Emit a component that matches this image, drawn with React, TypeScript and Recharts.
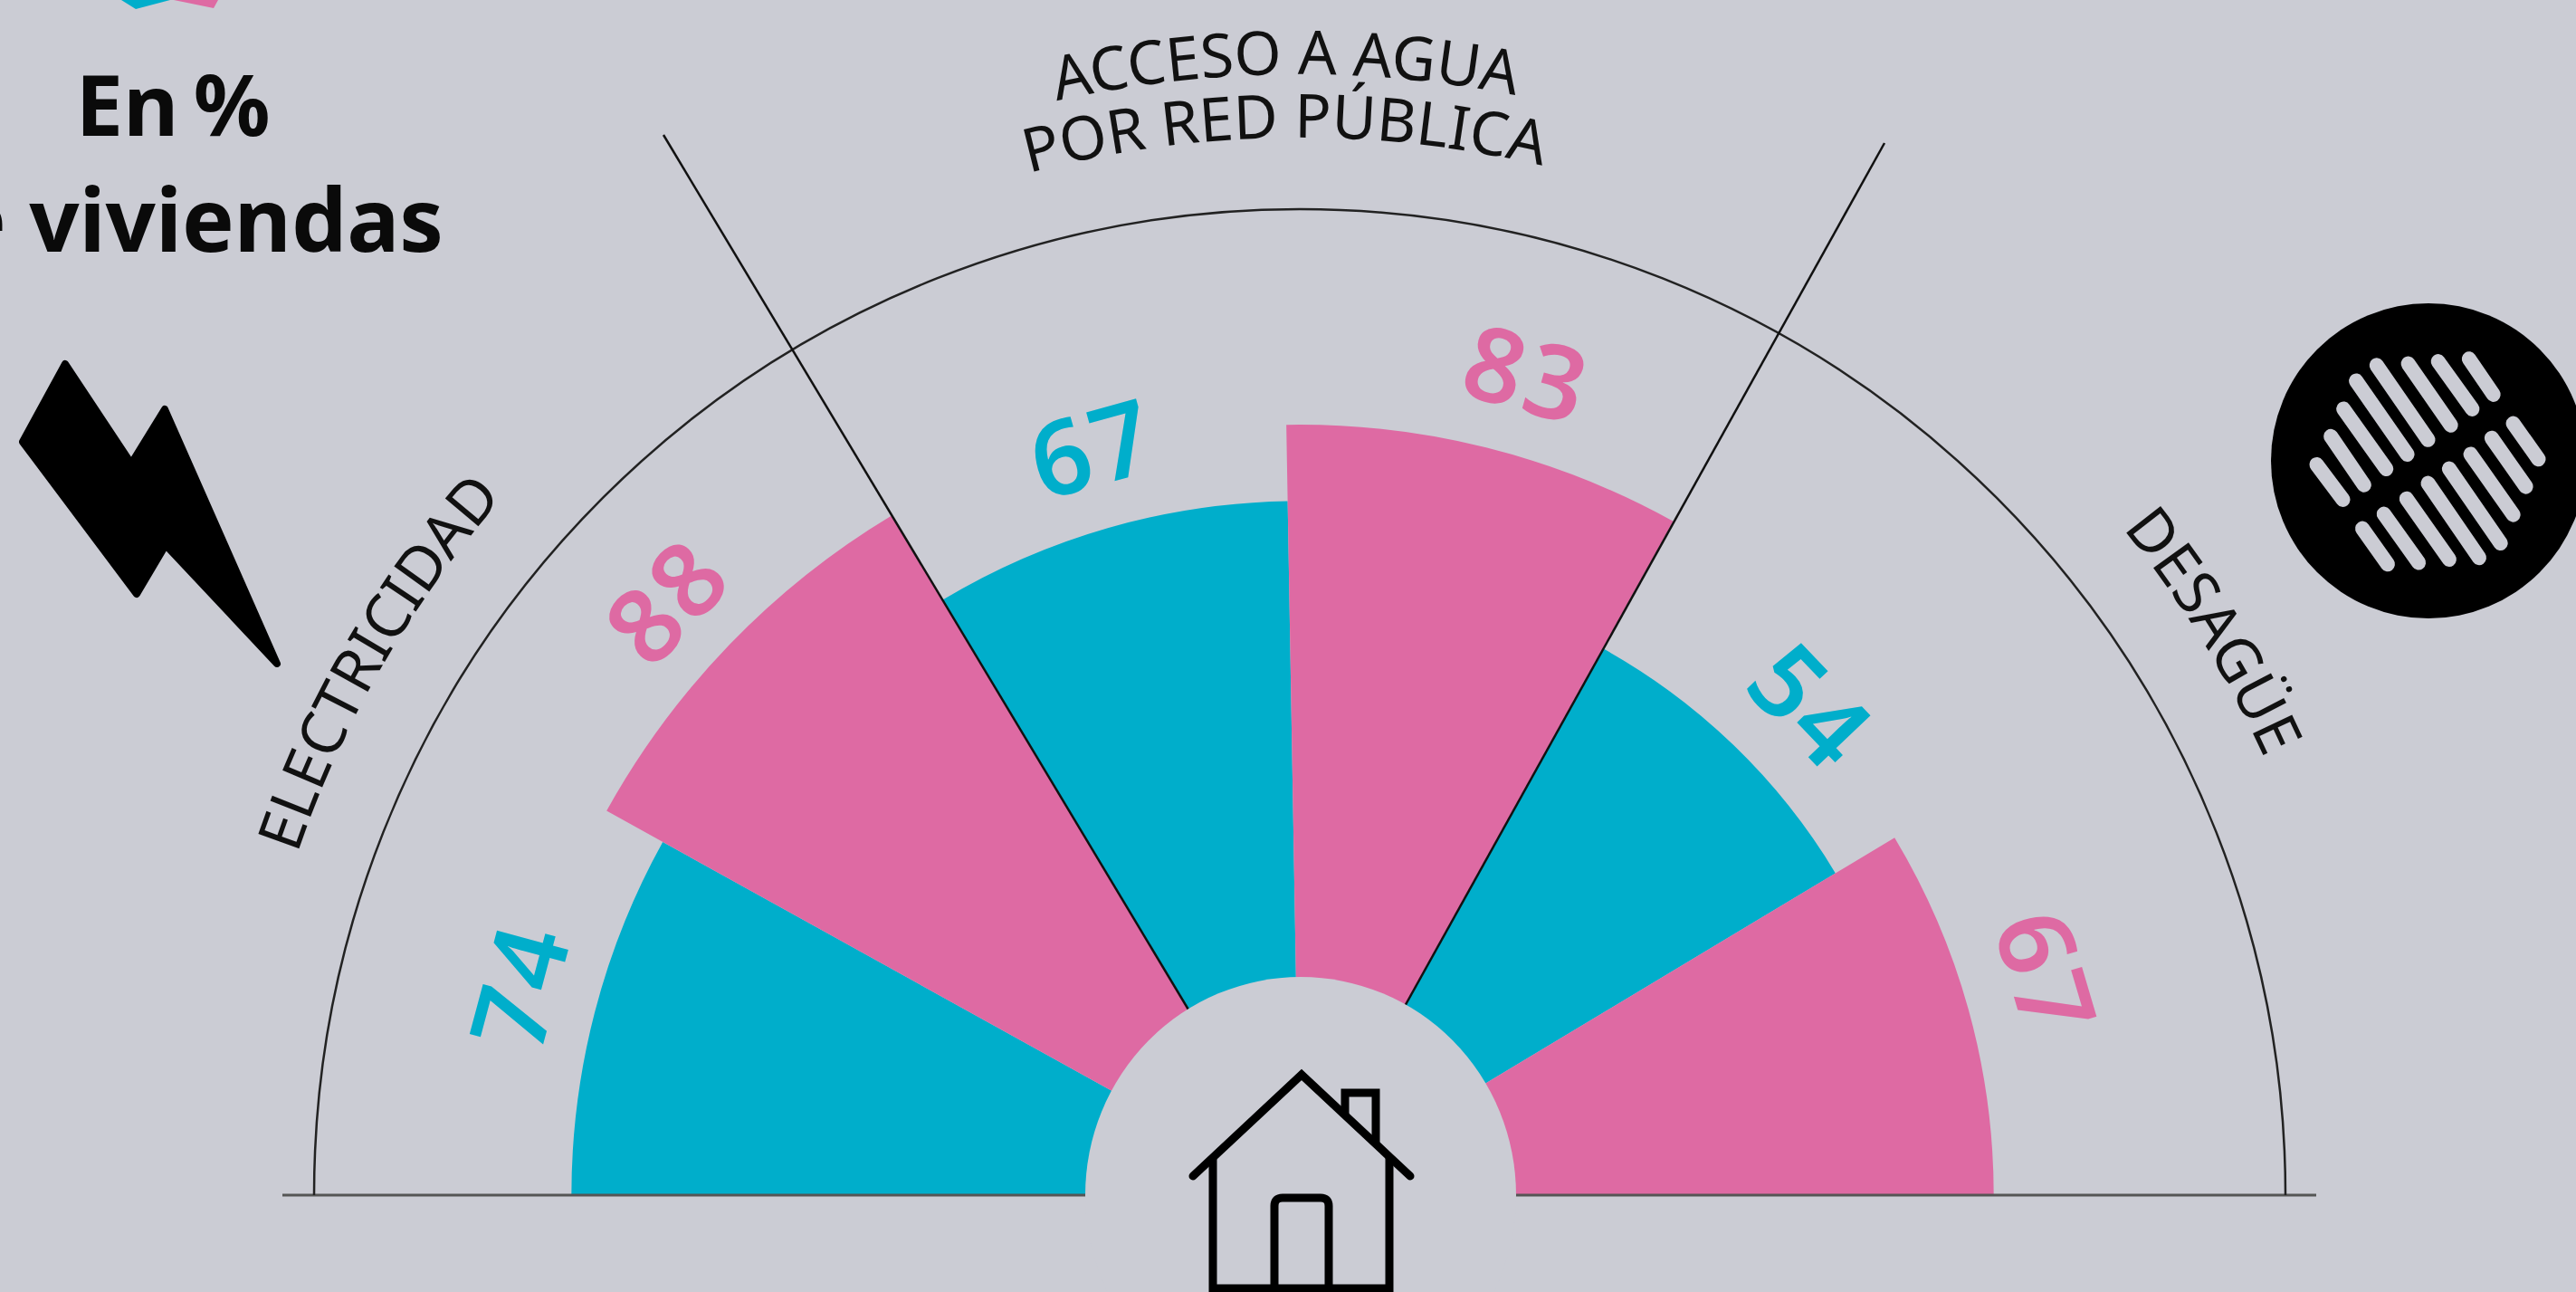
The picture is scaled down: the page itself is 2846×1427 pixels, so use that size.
import React from 'react';
import { RadialBarChart, RadialBar, PolarAngleAxis, PolarRadiusAxis, Sector } from 'recharts';

const W = 2846;
const H = 1427;
const BG = '#cbccd4';
const TEAL = '#00aecb';
const PINK = '#de6aa3';
const INK = '#0a0a0a';
const CX = 1436;
const CY = 1320;
const TILT = 1;

const categories = ['e-viv', 'e-hog', 'a-viv', 'a-hog', 'd-viv', 'd-hog'];
const values = [74, 88, 67, 83, 54, 67];
const tones = [TEAL, PINK, TEAL, PINK, TEAL, PINK];
const titleLines = ['En %', 'de viviendas'];
const groupLabels = ['ELECTRICIDAD', 'ACCESO A AGUA', 'POR RED PÚBLICA', 'DESAGÜE'];

// small hand placement of the value labels around each wedge's middle
const labelAngleNudge: Record<string, number> = { 'e-viv': 0, 'e-hog': 1.8, 'a-viv': 0.5, 'a-hog': -0.5, 'd-viv': -1.3, 'd-hog': 1.5 };
const labelRadiusNudge: Record<string, number> = { 'e-viv': 0, 'e-hog': -4, 'a-viv': 2, 'a-hog': 3, 'd-viv': 4, 'd-hog': 6 };

const rows = categories.map((category, i) => ({ category, value: values[i], tone: tones[i] }));

const RAD = Math.PI / 180;

function WedgeWithLabel(p: any) {
  const { cx, cy, innerRadius, outerRadius, startAngle, endAngle, payload } = p;
  const hi = Math.min(Math.max(startAngle, endAngle), 180);
  const rawLo = Math.min(startAngle, endAngle);
  const lo = rawLo < 2 ? 0 : rawLo;
  const mid = (startAngle + endAngle) / 2 - TILT + labelAngleNudge[payload.category];
  const r = outerRadius + 46 + labelRadiusNudge[payload.category];
  const x = cx + r * Math.cos(mid * RAD);
  const y = cy - r * Math.sin(mid * RAD);
  return (
    <g>
      <Sector
        cx={cx}
        cy={cy}
        innerRadius={innerRadius}
        outerRadius={outerRadius}
        startAngle={hi}
        endAngle={lo}
        fill={payload.tone}
        stroke="none"
      />
      <text
        transform={`translate(${x} ${y}) rotate(${90 - mid})`}
        textAnchor="middle"
        y={0}
        fontFamily="'Noto Sans'"
        fontWeight={600}
        fontSize={114}
        letterSpacing={4}
        fill={payload.tone}
      >
        {payload.value}
      </text>
    </g>
  );
}

const upperSlots = [
  [745, 597, 828, 705], [790, 510, 895, 660], [830, 425, 965, 610], [870, 338, 1032, 565],
  [935, 290, 1098, 520], [1035, 285, 1170, 475], [1130, 278, 1238, 425], [1228, 270, 1305, 380],
];
const lowerSlots = [
  [890, 795, 970, 905], [958, 750, 1068, 900], [1030, 703, 1165, 890], [1098, 655, 1260, 885],
  [1165, 610, 1328, 840], [1233, 565, 1368, 752], [1300, 515, 1408, 665], [1368, 470, 1448, 580],
];

function arcPath(r: number) {
  return `M ${CX - r} ${CY} A ${r} ${r} 0 0 1 ${CX + r} ${CY}`;
}

function Overlay() {
  const labelProps = { fontFamily: "'Noto Sans'", fontSize: 67, fill: '#111', textAnchor: 'middle' as const };
  return (
    <svg width={W} height={H} style={{ position: 'absolute', left: 0, top: 0, pointerEvents: 'none' }}>
      <defs>
        <path id="arc-side" d={arcPath(1170)} />
        <path id="arc-l1" d={arcPath(1238)} />
        <path id="arc-l2" d={arcPath(1168)} />
      </defs>

      {/* frame of the half circle */}
      <line x1={312} y1={CY} x2={2559} y2={CY} stroke="#555" strokeWidth={3} />
      <path d={arcPath(1089)} fill="none" stroke="#222" strokeWidth={2.5} />
      <line x1={CX} y1={CY} x2={733} y2={149} stroke="#111" strokeWidth={2.5} />
      <line x1={CX} y1={CY} x2={2082} y2={158} stroke="#111" strokeWidth={2.5} />
      <ellipse cx={1437} cy={1320} rx={238} ry={241} fill={BG} />

      {/* title */}
      <text x={191} y={150} textAnchor="middle" wordSpacing={-8} fontFamily="'Noto Sans'" fontWeight={700} fontSize={94} fill={INK}>
        {titleLines[0]}
      </text>
      <text x={490} y={278} textAnchor="end" fontFamily="'Noto Sans'" fontWeight={700} fontSize={97} fill={INK}>
        {titleLines[1]}
      </text>
      <polygon points="134,0 188,0 150,10" fill={TEAL} />
      <polygon points="192,0 241,0 236,9" fill={PINK} />

      {/* curved group labels */}
      <text {...labelProps}>
        <textPath href="#arc-side" startOffset="16.67%">{groupLabels[0]}</textPath>
      </text>
      <text {...labelProps}>
        <textPath href="#arc-l1" startOffset="49.6%">{groupLabels[1]}</textPath>
      </text>
      <text {...labelProps}>
        <textPath href="#arc-l2" startOffset="49.55%">{groupLabels[2]}</textPath>
      </text>
      <text {...labelProps}>
        <textPath href="#arc-side" startOffset="82.4%">{groupLabels[3]}</textPath>
      </text>

      {/* lightning */}
      <polygon
        points="72,402 145,512 182,452 306,733 183,602 151,656 25,488"
        fill="#000"
        stroke="#000"
        strokeWidth={8}
        strokeLinejoin="round"
      />

      {/* drain */}
      <circle cx={2683} cy={509} r={174} fill="#000" />
      <g transform="translate(2300 300) scale(0.3484 0.357)" stroke={BG} strokeWidth={46} strokeLinecap="round">
        {[...upperSlots, ...lowerSlots].map((s, i) => (
          <line key={i} x1={s[0]} y1={s[1]} x2={s[2]} y2={s[3]} />
        ))}
      </g>

      {/* house */}
      <g fill="none" stroke="#000" strokeWidth={9}>
        <polyline points="1318,1299 1438,1187 1558,1299" strokeLinecap="round" />
        <polyline points="1340,1277 1340,1423 1535,1423 1535,1277" />
        <path d="M1408 1423 V1332 Q1408 1323 1417 1323 H1459 Q1468 1323 1468 1332 V1423" />
        <polyline points="1486,1230 1486,1207 1520,1207 1520,1262" />
      </g>
    </svg>
  );
}

export default function App() {
  return (
    <div style={{ position: 'absolute', left: 0, top: 0, width: W, height: H, background: BG, overflow: 'hidden' }}>
      <RadialBarChart
        width={W}
        height={H}
        data={rows}
        layout="centric"
        cx={CX}
        cy={CY}
        innerRadius={21}
        outerRadius={932}
        startAngle={150 + TILT}
        endAngle={-30 + TILT}
        barCategoryGap="0%"
        barGap={0}
        margin={{ top: 0, right: 0, bottom: 0, left: 0 }}
      >
        <PolarAngleAxis type="category" dataKey="category" tick={false} axisLine={false} tickLine={false} />
        <PolarRadiusAxis type="number" scale="sqrt" domain={[0, 100]} tick={false} axisLine={false} tickLine={false} />
        <RadialBar dataKey="value" isAnimationActive={false} shape={WedgeWithLabel} />
      </RadialBarChart>
      <Overlay />
    </div>
  );
}
